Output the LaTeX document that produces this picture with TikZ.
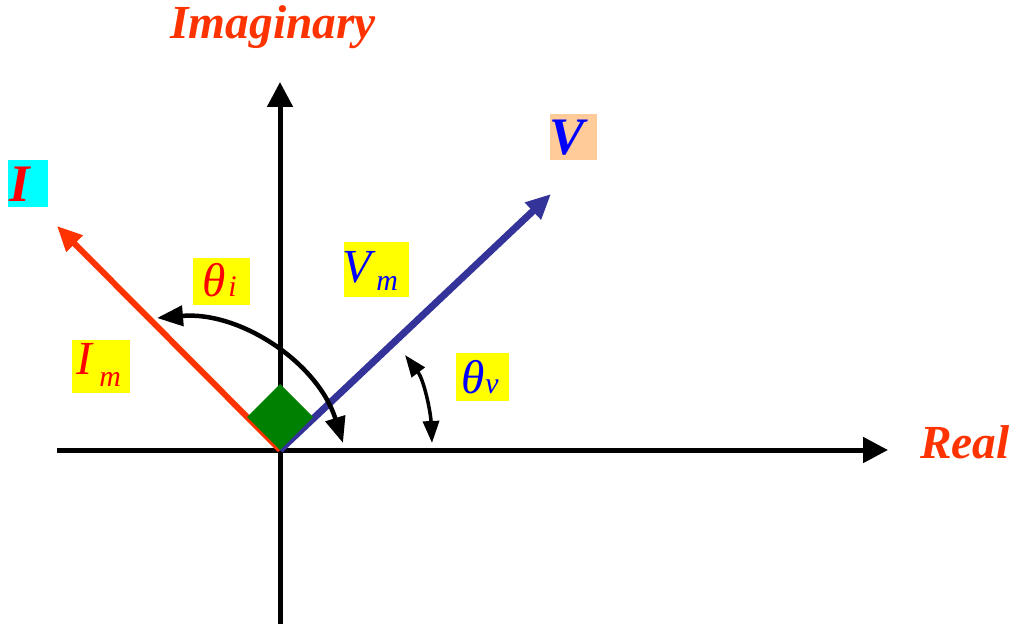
\documentclass[tikz,border=0pt]{standalone}
\usepackage{fontspec}
\setmainfont{Liberation Serif}
\usetikzlibrary{arrows.meta}
\definecolor{ored}{HTML}{FF3300}
\definecolor{vblue}{HTML}{333399}
\definecolor{dgreen}{HTML}{008000}
\definecolor{peach}{HTML}{FFCC99}
\definecolor{aqua}{HTML}{00FFFF}
\definecolor{yel}{HTML}{FFFF00}
\definecolor{pred}{HTML}{FF0000}
\definecolor{pblue}{HTML}{0000FF}
\tikzset{
  axis/.style={line width=0.1cm, -{Triangle[length=0.5cm,width=0.5cm]}},
  vec/.style={line width=0.12cm, -{Triangle[length=0.5cm,width=0.44cm]}},
  angarc/.style={line width=0.09cm, {Triangle[length=0.52cm,width=0.4cm]}-{Triangle[length=0.52cm,width=0.4cm]}},
  angarcs/.style={line width=0.07cm, {Triangle[length=0.44cm,width=0.32cm]}-{Triangle[length=0.44cm,width=0.32cm]}},
  axlabel/.style={text=ored, font=\fontsize{27}{27}\selectfont\bfseries\itshape, inner sep=0},
  lbox/.style={inner sep=0, anchor=north west},
  ltext/.style={inner sep=0, anchor=base west},
  big/.style={font=\fontsize{30}{30}\selectfont\bfseries\itshape},
  mid/.style={font=\fontsize{27}{27}\selectfont\itshape},
  theta/.style={font=\fontsize{27}{27}\selectfont\itshape},
  sub/.style={font=\fontsize{17}{17}\selectfont\itshape},
}
\begin{document}
\begin{tikzpicture}[x=0.02cm,y=-0.02cm]
\useasboundingbox (0,0) rectangle (1016,624);
\coordinate (O) at (280,450);
\coordinate (xl) at (57,450);
\coordinate (xr) at (888,450);
\coordinate (yb) at (280,624);
\coordinate (yt) at (280,82);
\coordinate (Itip) at (57,226);
\coordinate (Vtip) at (551,194);
% axes
\draw[axis] (xl) -- (xr);
\draw[axis] (yb) -- (yt);
% vectors
\draw[vec, ored] (O) -- (Itip);
\draw[vec, vblue, line width=0.14cm] (O) -- (Vtip);
% right-angle diamond
\fill[dgreen] (280,450) -- (313,417) -- (280,384) -- (247,417) -- cycle;
% angle arcs
\coordinate (ai1) at (157,318);
\coordinate (ai2) at (343,443);
\draw[angarc] (ai1) .. controls (240.5,311) and (318,363) .. (ai2);
\coordinate (av1) at (405,355);
\coordinate (av2) at (432,443);
\draw[angarcs] (av1) .. controls (424,380) and (430.6,411.6) .. (av2);
% axis labels
\node[axlabel] (imag) at (273,27) {Imaginary};
\node[axlabel] (real) at (965,442) {Real};
% phasor label boxes
\node[lbox, fill=aqua, minimum width=0.8cm, minimum height=0.94cm] (Ibox) at (8,160) {};
\node[lbox, fill=peach, minimum width=0.94cm, minimum height=0.92cm] (Vbox) at (550,114) {};
\node[lbox, fill=yel, minimum width=1.14cm, minimum height=0.94cm] (thibox) at (193,258) {};
\node[lbox, fill=yel, minimum width=1.3cm, minimum height=1.1cm] (vmbox) at (344,242) {};
\node[lbox, fill=yel, minimum width=1.16cm, minimum height=1.06cm] (imbox) at (72,340) {};
\node[lbox, fill=yel, minimum width=1.06cm, minimum height=0.96cm] (thvbox) at (456,353) {};
% label texts
\node[ltext, big, text=pred] (Itxt) at (9,202) {I};
\node[ltext, big, text=pblue] (Vtxt) at (549,155) {V};
\node[ltext, theta, text=pred] (thitxt) at (202,297) {θ};
\node[ltext, sub, text=pred] (thisub) at (228,297) {i};
\node[ltext, mid, text=pblue] (vmtxt) at (342,283) {V};
\node[ltext, sub, text=pblue] (vmsub) at (376,291) {m};
\node[ltext, mid, text=pred] (imtxt) at (76,375) {I};
\node[ltext, sub, text=pred] (imsub) at (99,386) {m};
\node[ltext, theta, text=pblue] (thvtxt) at (461,393) {θ};
\node[ltext, sub, text=pblue] (thvsub) at (485,393) {v};
\end{tikzpicture}
\end{document}
